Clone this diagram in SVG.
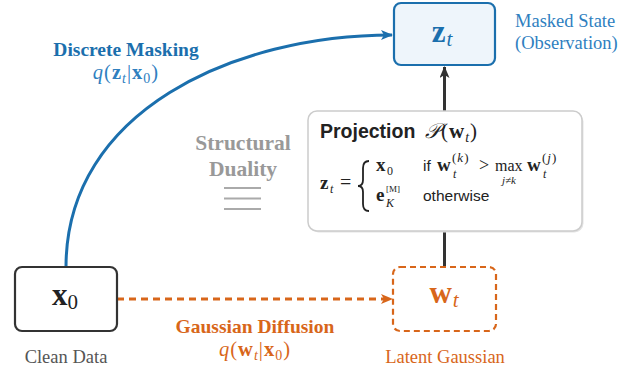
<svg xmlns="http://www.w3.org/2000/svg" width="632" height="370" viewBox="0 0 632 370">
<style>
.ser{font-family:"Liberation Serif","Times New Roman",serif}
.sans{font-family:"Liberation Sans",Arial,sans-serif}
.b{font-weight:bold}
.i{font-style:italic}
.blue{fill:#1b6fad}
.lblue{fill:#2f80bf}
.org{fill:#d8661a}
.gray{fill:#999999}
.dark{fill:#222222}
</style>
<defs>
<marker id="ab" viewBox="0 0 12 10" refX="11" refY="5" markerWidth="12" markerHeight="10" markerUnits="userSpaceOnUse" orient="auto">
<path d="M0,0 L12,5 L0,10 L3,5 z" fill="#1b6fad"/>
</marker>
<marker id="ao" viewBox="0 0 12 10" refX="11" refY="5" markerWidth="12" markerHeight="10" markerUnits="userSpaceOnUse" orient="auto">
<path d="M0,0 L12,5 L0,10 L3,5 z" fill="#d8661a"/>
</marker>
<marker id="ad" viewBox="0 0 12 10" refX="11" refY="5" markerWidth="12" markerHeight="10" markerUnits="userSpaceOnUse" orient="auto">
<path d="M0,0 L12,5 L0,10 L3,5 z" fill="#333333"/>
</marker>
</defs>

<g id="connectors">
<path d="M66,267 C66,111 234,35 392,35" fill="none" stroke="#1b6fad" stroke-width="3" marker-end="url(#ab)"/>
<path d="M117,299 L392,299" fill="none" stroke="#d8661a" stroke-width="3" stroke-dasharray="7,5" marker-end="url(#ao)"/>
<path d="M444.5,267 L444.5,67" fill="none" stroke="#333333" stroke-width="3" marker-end="url(#ad)"/>
</g>

<g id="label-discrete">
<text class="ser b blue" x="126" y="56" font-size="19.5" text-anchor="middle">Discrete Masking</text>
<text class="ser lblue" x="126" y="79" font-size="20.5" text-anchor="middle" letter-spacing="1"><tspan class="i">q</tspan>(<tspan class="b">z</tspan><tspan class="i" font-size="14" dy="4">t</tspan><tspan dy="-4">|</tspan><tspan class="b">x</tspan><tspan font-size="14" dy="4">0</tspan><tspan dy="-4">)</tspan></text>
</g>

<g id="node-zt">
<rect x="394" y="3" width="101" height="62" rx="7" fill="#eef5fb" stroke="#1b6fad" stroke-width="2.2"/>
<text class="ser blue" x="442" y="42" font-size="31" text-anchor="middle"><tspan class="b">z</tspan><tspan class="i" font-size="21" dy="4" dx="1">t</tspan></text>
</g>

<g id="label-masked">
<text class="ser lblue" x="515" y="27" font-size="18.5">Masked State</text>
<text class="ser lblue" x="515" y="49" font-size="18.5">(Observation)</text>
</g>

<g id="label-duality">
<text class="ser b gray" x="243" y="150" font-size="21.5" text-anchor="middle">Structural</text>
<text class="ser b gray" x="243" y="176" font-size="21.5" text-anchor="middle">Duality</text>
<g stroke="#aaaaaa" stroke-width="2">
<line x1="224" y1="188" x2="261" y2="188"/>
<line x1="224" y1="198.5" x2="261" y2="198.5"/>
<line x1="224" y1="209" x2="261" y2="209"/>
</g>
</g>

<g id="node-projection">
<rect x="309.5" y="112.5" width="274" height="120" rx="9" fill="#e4e4e4"/>
<rect x="308" y="111" width="274" height="120" rx="9" fill="#ffffff" stroke="#cccccc" stroke-width="1.5"/>
<text class="sans b dark" x="320" y="138" font-size="19.5">Projection</text>
<text class="ser dark" x="425" y="138" font-size="21" letter-spacing="1"><tspan class="i">𝒫</tspan>(<tspan class="b">w</tspan><tspan class="i" font-size="14" dy="4">t</tspan><tspan dy="-4">)</tspan></text>
<text class="ser b dark" x="320" y="189" font-size="19">z</text>
<text class="ser i dark" x="330" y="193" font-size="12">t</text>
<text class="ser dark" x="340" y="189" font-size="20">=</text>
<path d="M369,161 Q363,161 363,168 L363,180 Q363,186 358,186 Q363,186 363,192 L363,204 Q363,211 369,211" fill="none" stroke="#222222" stroke-width="1.8"/>
<text class="ser b dark" x="376" y="171" font-size="19">x</text>
<text class="ser dark" x="387" y="175" font-size="12">0</text>
<text class="sans dark" x="423" y="171" font-size="15.5">if</text>
<text class="ser b dark" x="437" y="171" font-size="19">w</text>
<text class="ser dark" x="452" y="162" font-size="13" letter-spacing="1">(<tspan class="i">k</tspan>)</text>
<text class="ser i dark" x="453" y="178" font-size="12">t</text>
<text class="ser dark" x="479" y="171" font-size="18">&gt;</text>
<text class="ser dark" x="495" y="171" font-size="16">max</text>
<text class="ser i dark" x="509" y="184" font-size="11" text-anchor="middle">j≠k</text>
<text class="ser b dark" x="527" y="171" font-size="19">w</text>
<text class="ser dark" x="542" y="162" font-size="13" letter-spacing="1">(<tspan class="i">j</tspan>)</text>
<text class="ser i dark" x="543" y="178" font-size="12">t</text>
<text class="ser b dark" x="376" y="201" font-size="19">e</text>
<text class="ser dark" x="386" y="192" font-size="9">[M]</text>
<text class="ser i dark" x="386" y="207" font-size="12">K</text>
<text class="sans dark" x="423" y="201" font-size="15.5">otherwise</text>
</g>

<g id="node-x0">
<rect x="15" y="267" width="102" height="64" rx="7" fill="#ffffff" stroke="#333333" stroke-width="2.2"/>
<text class="ser dark" x="65" y="305" font-size="31" text-anchor="middle"><tspan class="b">x</tspan><tspan font-size="21" dy="4">0</tspan></text>
<text class="ser" x="66" y="363" font-size="18.5" fill="#555555" text-anchor="middle">Clean Data</text>
</g>

<g id="node-wt">
<rect x="393" y="267" width="103" height="64" rx="7" fill="#ffffff" stroke="#d8661a" stroke-width="2.2" stroke-dasharray="6,4"/>
<text class="ser org" x="444" y="303" font-size="31" text-anchor="middle"><tspan class="b">w</tspan><tspan class="i" font-size="21" dy="4" dx="1">t</tspan></text>
<text class="ser org" x="445" y="363" font-size="18.5" text-anchor="middle">Latent Gaussian</text>
</g>

<g id="label-gaussian">
<text class="ser b org" x="255" y="333" font-size="19.5" text-anchor="middle">Gaussian Diffusion</text>
<text class="ser org" x="255" y="356" font-size="20.5" text-anchor="middle" letter-spacing="1"><tspan class="i">q</tspan>(<tspan class="b">w</tspan><tspan class="i" font-size="14" dy="4">t</tspan><tspan dy="-4">|</tspan><tspan class="b">x</tspan><tspan font-size="14" dy="4">0</tspan><tspan dy="-4">)</tspan></text>
</g>
</svg>
